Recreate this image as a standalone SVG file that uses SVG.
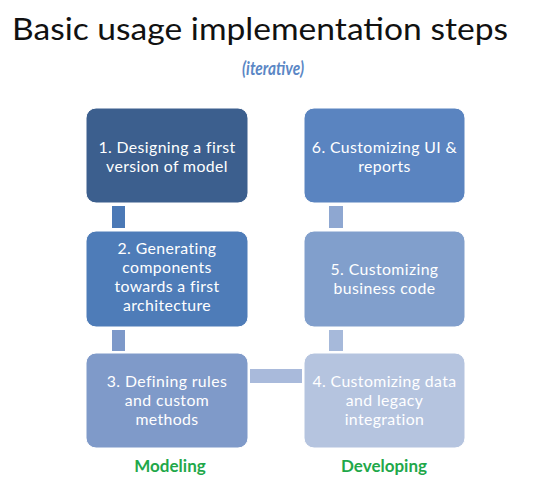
<svg xmlns="http://www.w3.org/2000/svg" width="554" height="487" viewBox="0 0 554 487">
<style>
.box{stroke:#ffffff;stroke-width:1}
.t{font-family:Lato,"Open Sans","Liberation Sans",sans-serif;font-size:15.8px;letter-spacing:0.4px;fill:#ffffff;text-anchor:middle}
.lbl{font-family:Lato,"Open Sans","Liberation Sans",sans-serif;font-size:17px;font-weight:bold;fill:#1fa84a;text-anchor:middle}
</style>
<rect width="554" height="487" fill="#ffffff"/>
<text x="260" y="40" font-family="Lato,'Open Sans','Liberation Sans',sans-serif" font-size="30" fill="#111111" text-anchor="middle" textLength="496" lengthAdjust="spacingAndGlyphs">Basic usage implementation steps</text>
<text x="273" y="75" font-family="Lato,'Open Sans','Liberation Sans',sans-serif" font-size="19" font-style="italic" font-weight="bold" fill="#5b87c5" text-anchor="middle" textLength="62" lengthAdjust="spacingAndGlyphs">(iterative)</text>
<g id="connectors">
<rect x="112" y="206" width="13" height="22" fill="#4b79b6"/>
<rect x="112" y="330" width="13" height="21" fill="#7d99c9"/>
<rect x="250" y="369" width="52" height="14" fill="#a9badb"/>
<rect x="329" y="206" width="14" height="22" fill="#8ea7d1"/>
<rect x="329" y="330" width="14" height="21" fill="#a6b9da"/>
</g>
<g id="node1">
<rect class="box" x="86" y="108" width="162" height="95" rx="10" fill="#3c5f8e"/>
<text class="t" x="167" y="153">1. Designing a first</text>
<text class="t" x="167" y="172">version of model</text>
</g>
<g id="node2">
<rect class="box" x="86" y="231" width="162" height="96" rx="10" fill="#4e7cb8"/>
<text class="t" x="167" y="254">2. Generating</text>
<text class="t" x="167" y="273">components</text>
<text class="t" x="167" y="292">towards a first</text>
<text class="t" x="167" y="311">architecture</text>
</g>
<g id="node3">
<rect class="box" x="86" y="353" width="162" height="95" rx="10" fill="#7f9ac9"/>
<text class="t" x="167" y="387">3. Defining rules</text>
<text class="t" x="167" y="406">and custom</text>
<text class="t" x="167" y="425">methods</text>
</g>
<g id="node4">
<rect class="box" x="304" y="353" width="161" height="95" rx="10" fill="#b5c4df"/>
<text class="t" x="384.5" y="387">4. Customizing data</text>
<text class="t" x="384.5" y="406">and legacy</text>
<text class="t" x="384.5" y="425">integration</text>
</g>
<g id="node5">
<rect class="box" x="304" y="231" width="161" height="96" rx="10" fill="#819fcc"/>
<text class="t" x="384.5" y="275">5. Customizing</text>
<text class="t" x="384.5" y="294">business code</text>
</g>
<g id="node6">
<rect class="box" x="304" y="108" width="161" height="95" rx="10" fill="#5a84c0"/>
<text class="t" x="384.5" y="153">6. Customizing UI &amp;</text>
<text class="t" x="384.5" y="172">reports</text>
</g>
<text class="lbl" x="170" y="472">Modeling</text>
<text class="lbl" x="384" y="472">Developing</text>
</svg>
